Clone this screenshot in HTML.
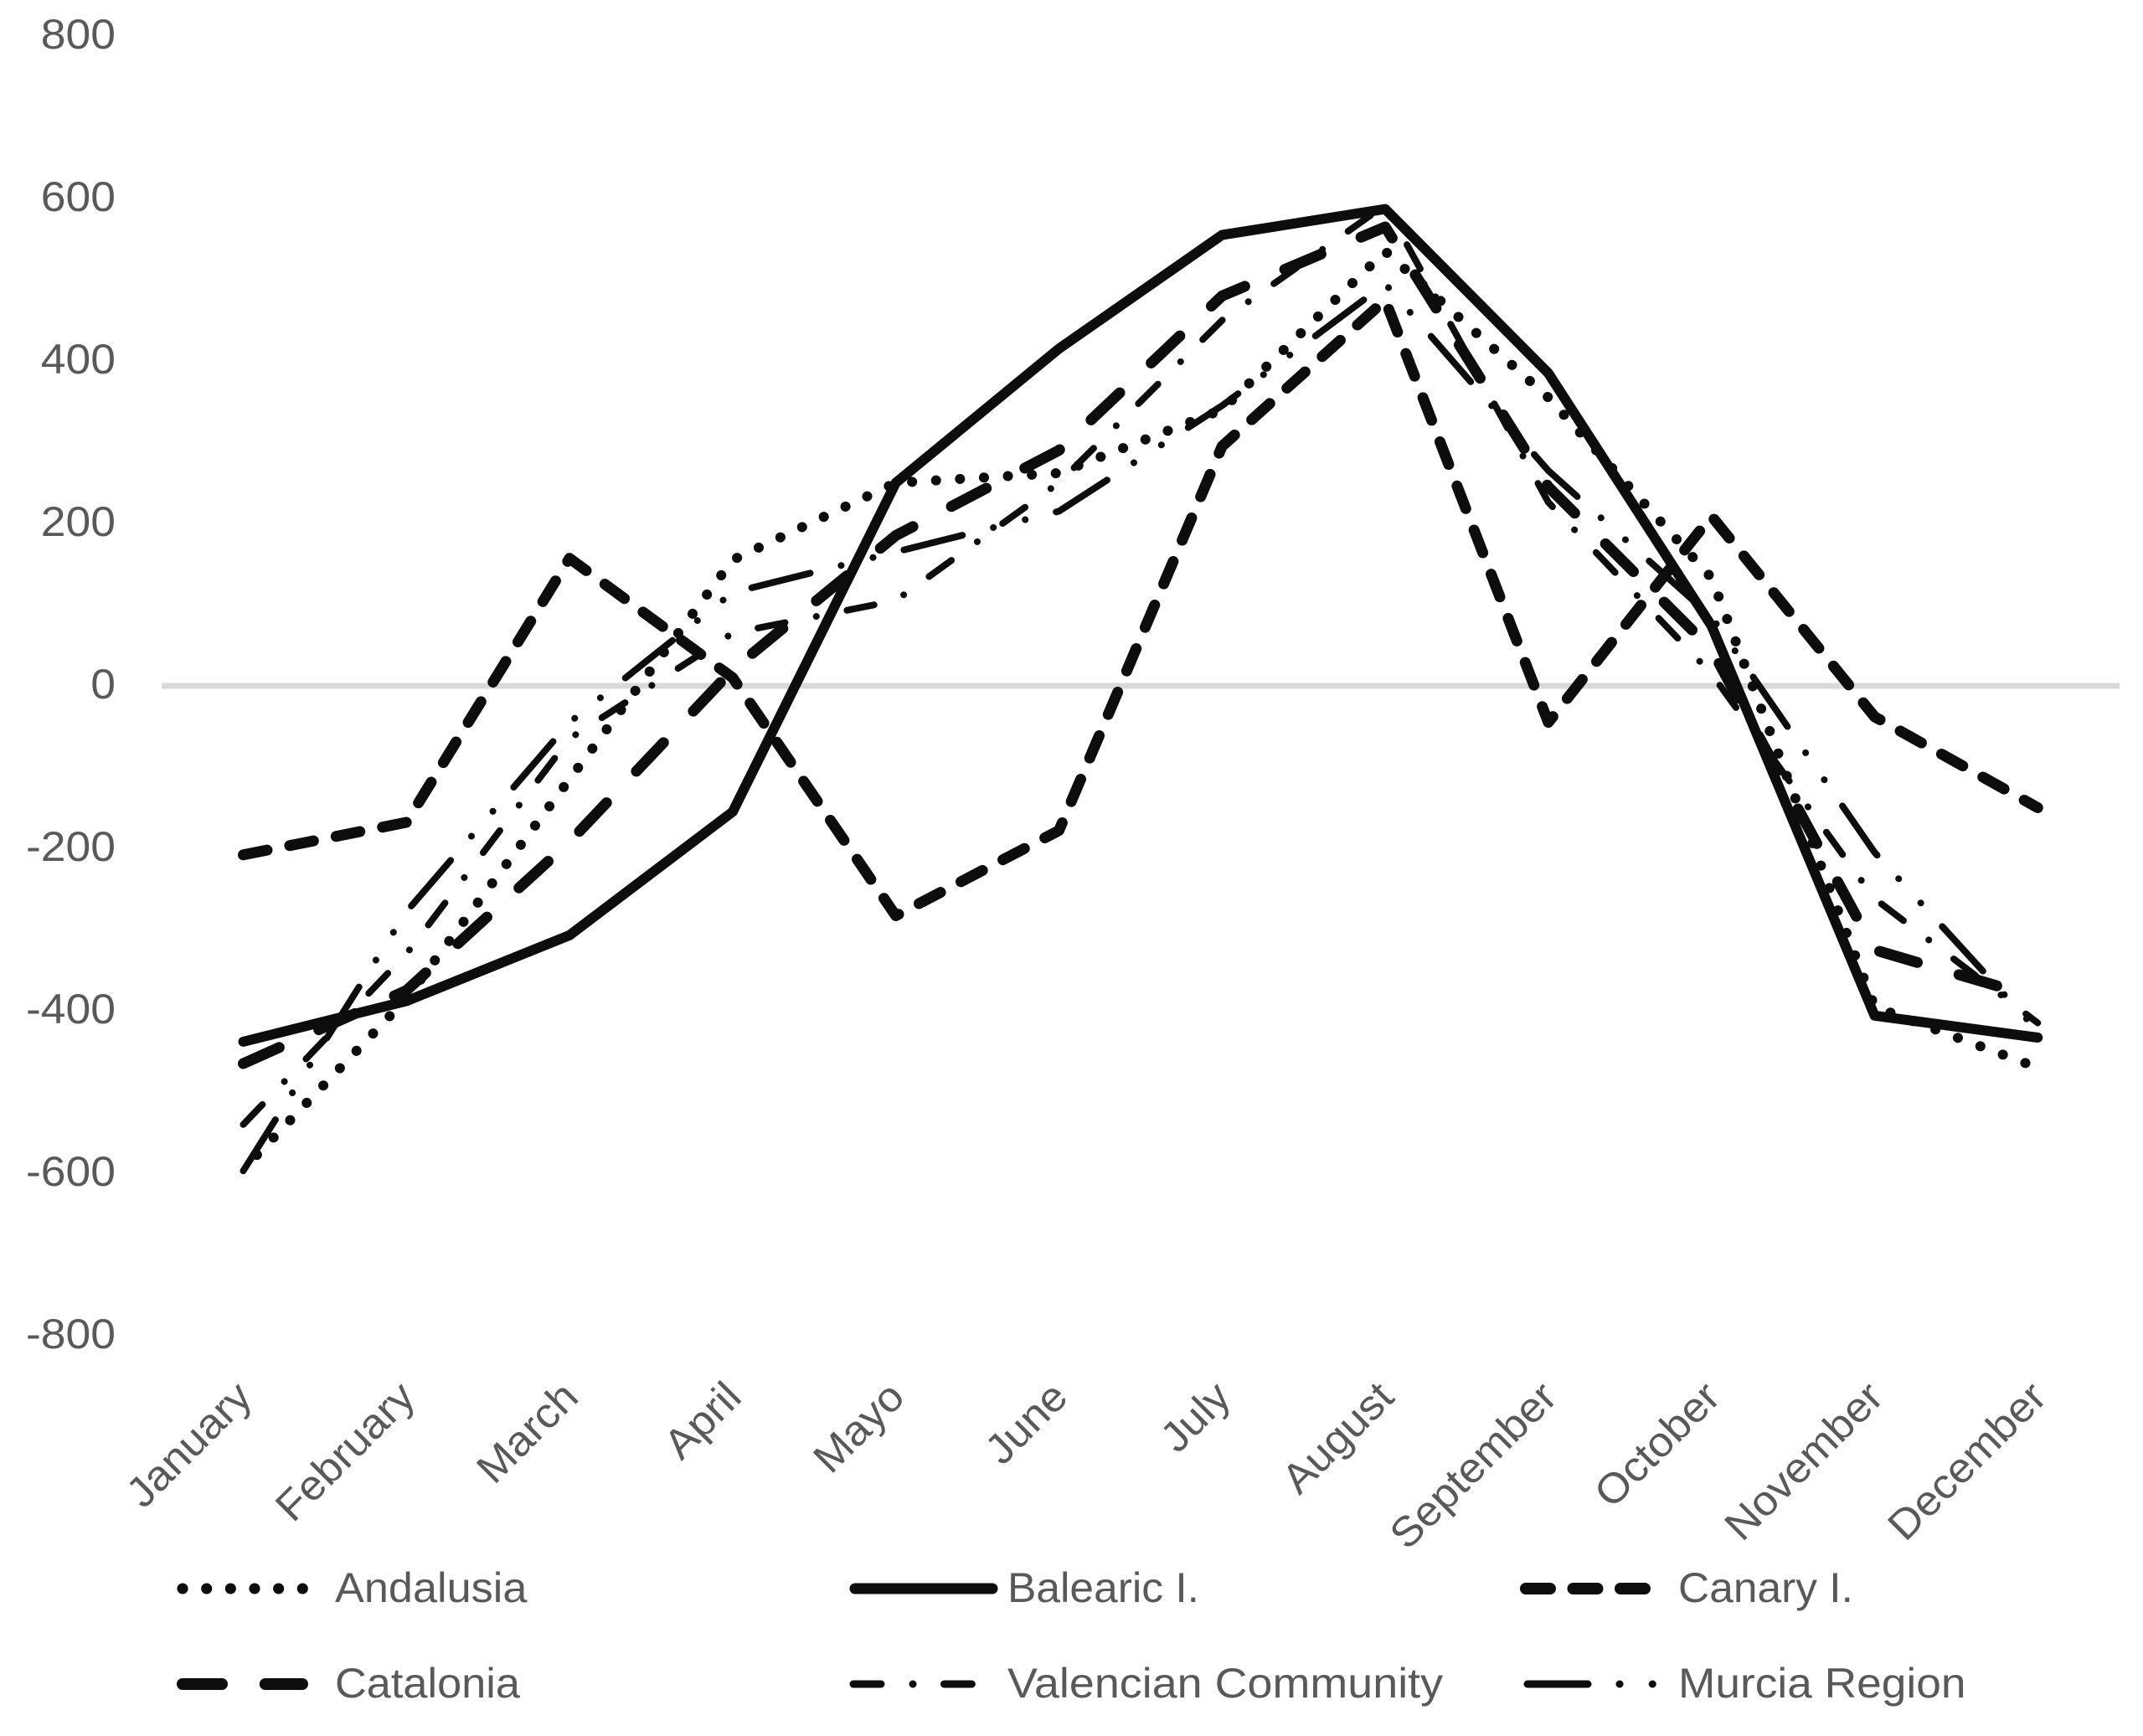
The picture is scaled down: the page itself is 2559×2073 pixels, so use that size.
<!DOCTYPE html>
<html lang="en">
<head>
<meta charset="utf-8">
<title>Monthly values by Spanish region</title>
<style>
  html, body { margin: 0; padding: 0; background: #ffffff; }
  #chart { display: block; width: 2559px; height: 2073px; }
  text { font-family: "Liberation Sans", sans-serif; font-size: 50px; fill: #595959; }
</style>
</head>
<body>
<svg id="chart" xmlns="http://www.w3.org/2000/svg" width="2559" height="2073" viewBox="0 0 2559 2073">
  <g id="y-axis"></g>
  <line id="zero" x1="193" x2="2531" stroke="#d9d9d9" stroke-width="7"></line>
  <g id="x-axis"></g>
  <g id="series"></g>
  <g id="legend"></g>
</svg>
<script>
const months = ["January", "February", "March", "April", "Mayo", "June", "July", "August", "September", "October", "November", "December"];
const yTicks = [800, 600, 400, 200, 0, -200, -400, -600, -800];
const seriesNames = ["Andalusia", "Balearic I.", "Canary I.", "Catalonia", "Valencian Community", "Murcia Region"];
const andalusia = [-595, -385, -115, 155, 250, 262, 340, 535, 355, 133, -395, -470];
const balearic = [-438, -388, -307, -155, 250, 415, 555, 587, 385, 74, -406, -433];
const canary = [-208, -168, 157, 10, -283, -178, 295, 475, -45, 209, -38, -150];
const catalonia = [-465, -375, -192, 20, 185, 290, 480, 565, 245, 45, -325, -384];
const valencian = [-540, -330, -65, 65, 105, 250, 450, 592, 226, 15, -262, -415];
const murcia = [-597, -278, -45, 115, 165, 215, 345, 495, 265, 85, -205, -425];

const svgNS = "http://www.w3.org/2000/svg";
const styles = [
  { dash: "0.1 28.55", width: 12, offset: 5 },
  { dash: "", width: 12, offset: 0 },
  { dash: "29 27.5", width: 13, offset: 0 },
  { dash: "47 51.85", width: 13, offset: 0 },
  { dash: "33 38 0.1 37.3", width: 8, offset: 0 },
  { dash: "72 38 0.1 39.1 0.1 38", width: 8, offset: 0 }
];
const seriesData = [andalusia, balearic, canary, catalonia, valencian, murcia];
const legendLayout = [
  { x1: 218, x2: 364, y: 1897, tx: 400, sx: 1.045 },
  { x1: 1021, x2: 1185, y: 1897, tx: 1203, sx: 1.03 },
  { x1: 1822, x2: 1966, y: 1897, tx: 2004, sx: 1.03 },
  { x1: 218, x2: 361, y: 2011, tx: 400, sx: 1.046 },
  { x1: 1019, x2: 1163, y: 2011, tx: 1203, sx: 1.078 },
  { x1: 1824, x2: 1974, y: 2011, tx: 2004, sx: 1.066 }
];

function xScale(i) { return 290.5 + i * 194.8; }
function yScale(v) { return 819 - v * 0.97; }

function slug(s) { return s.toLowerCase().replace(/[^a-z0-9]+/g, "-").replace(/-+$/, ""); }

const yAxis = document.getElementById("y-axis");
yTicks.forEach(function (t) {
  const el = document.createElementNS(svgNS, "text");
  el.setAttribute("transform", "translate(138 " + (yScale(t) + 15) + ") scale(1.07 1)");
  el.setAttribute("text-anchor", "end");
  
  
  el.textContent = String(t);
  yAxis.appendChild(el);
});

const zero = document.getElementById("zero");
zero.setAttribute("y1", yScale(0));
zero.setAttribute("y2", yScale(0));

const xAxis = document.getElementById("x-axis");
months.forEach(function (m, i) {
  const el = document.createElementNS(svgNS, "text");
  const ax = xScale(i) + 13;
  const ay = 1671;
  el.setAttribute("transform", "translate(" + ax + " " + ay + ") rotate(-45) scale(1.05 1)");
  el.setAttribute("text-anchor", "end");
  
  
  el.textContent = m;
  xAxis.appendChild(el);
});

const seriesGroup = document.getElementById("series");
seriesData.forEach(function (vals, s) {
  const el = document.createElementNS(svgNS, "path");
  const d = vals.map(function (v, i) {
    return (i === 0 ? "M" : "L") + xScale(i).toFixed(1) + " " + yScale(v).toFixed(1);
  }).join(" ");
  el.setAttribute("d", d);
  el.setAttribute("fill", "none");
  el.setAttribute("stroke", "#0d0d0d");
  el.setAttribute("stroke-width", styles[s].width);
  el.setAttribute("stroke-linecap", "round");
  el.setAttribute("stroke-linejoin", "round");
  if (styles[s].dash) el.setAttribute("stroke-dasharray", styles[s].dash);
  if (styles[s].offset) el.setAttribute("stroke-dashoffset", styles[s].offset);
  
  
  seriesGroup.appendChild(el);
});

const legend = document.getElementById("legend");
seriesNames.forEach(function (name, s) {
  const pos = legendLayout[s];
  const key = document.createElementNS(svgNS, "line");
  key.setAttribute("x1", pos.x1);
  key.setAttribute("x2", pos.x2);
  key.setAttribute("y1", pos.y);
  key.setAttribute("y2", pos.y);
  key.setAttribute("stroke", "#0d0d0d");
  key.setAttribute("stroke-width", styles[s].width + 1);
  key.setAttribute("stroke-linecap", "round");
  if (styles[s].dash) key.setAttribute("stroke-dasharray", styles[s].dash);
  
  
  legend.appendChild(key);
  const label = document.createElementNS(svgNS, "text");
  label.setAttribute("transform", "translate(" + pos.tx + " " + (pos.y + 16) + ") scale(" + pos.sx + " 1)");
  
  
  label.textContent = name;
  legend.appendChild(label);
});
</script>
</body>
</html>
